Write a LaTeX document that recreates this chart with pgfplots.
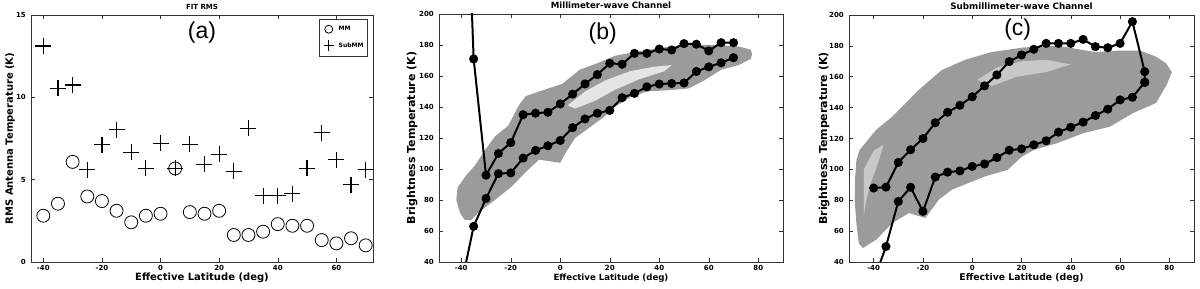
\documentclass[border=0pt]{standalone}
\usepackage{pgfplots}
\pgfplotsset{compat=1.18}
\usepackage{fontspec}
\setmainfont{Liberation Sans}
\newfontfamily\lab{DejaVu Sans}
\definecolor{cloud}{RGB}{155,155,155}
\newcommand\fs[1]{\fontsize{#1}{#1}\selectfont}
\begin{document}
\begin{tikzpicture}
\useasboundingbox (0pt,0pt) rectangle (1200pt,289pt);
\pgfplotsset{
  every axis/.append style={
    scale only axis,
    axis line style={line width=0.6pt, black!80},
    tick align=inside,
    major tick length=4pt,
    tick style={black!80, line width=0.5pt},
    /pgf/number format/assume math mode=true,
    ticklabel style={font=\lab\bfseries\fs{7}},
    xticklabel style={anchor=base, inner sep=0pt, yshift=-9pt},
    yticklabel style={anchor=east, inner sep=0pt, xshift=-5pt},
    xlabel style={at={(axis description cs:0.5,0)}, anchor=base, yshift=-18.5pt, inner sep=0pt},
    ylabel style={at={(axis description cs:0,0.5)}, anchor=base, inner sep=0pt},
    title style={at={(axis description cs:0.5,1)}, anchor=base, yshift=-0.3pt, inner sep=0pt},
  }
}
% ---------------- (a) ----------------
\begin{axis}[
  at={(31pt,27pt)}, anchor=south west,
  width=342pt, height=247pt,
  xmin=-44.2, xmax=72.5, ymin=0, ymax=15,
  xtick={-40,-20,0,20,40,60}, ytick={0,5,10,15},
  title={FIT RMS},
  title style={font=\lab\bfseries\fs{7}},
  xlabel={Effective Latitude (deg)},
  xlabel style={font=\lab\bfseries\fs{10}},
  ylabel={RMS Antenna Temperature (K)},
  ylabel style={font=\lab\bfseries\fs{10}, yshift=18pt},
  legend style={at={(axis description cs:0.985,0.984)}, anchor=north east, draw=black!80, line width=0.6pt,
    font=\lab\bfseries\fs{6}, inner xsep=2pt, inner ysep=4.5pt, row sep=5pt, cells={anchor=west}},
  legend cell align=left,
]
\addplot[only marks, mark=o, mark size=6.5pt, black, line width=0.8pt,
  legend image code/.code={\path[draw=none,fill=none] (0pt,-5.5pt) rectangle (15pt,5.5pt);
    \draw[black,line width=0.8pt,fill=none] (7pt,0) circle (4pt);}]
coordinates {
(-40,2.81) (-35,3.54) (-30,6.08) (-25,3.98) (-20,3.70) (-15,3.11) (-10,2.41) (-5,2.81)
(0,2.93) (5,5.68) (10,3.03) (15,2.93) (20,3.11) (25,1.64) (30,1.64) (35,1.84) (40,2.30)
(45,2.20) (50,2.20) (55,1.33) (60,1.13) (65,1.44) (70,1.01)};
\addlegendentry{MM}
\addplot[only marks, mark=+, mark size=8pt, black, line width=1.2pt,
  legend image code/.code={\path[draw=none,fill=none] (0pt,-5.5pt) rectangle (15pt,5.5pt);
    \draw[black,line width=1.2pt] (2pt,0)--(12pt,0) (7pt,-5.5pt)--(7pt,5.5pt);}]
coordinates {
(-40,13.12) (-35,10.55) (-30,10.75) (-25,5.60) (-20,7.12) (-15,8.03) (-10,6.65) (-5,5.70)
(0,7.22) (5,5.68) (10,7.14) (15,5.94) (20,6.55) (25,5.52) (30,8.13) (35,4.02) (40,4.02)
(45,4.14) (50,5.70) (55,7.86) (60,6.21) (65,4.69) (70,5.60)};
\addlegendentry{SubMM}
\node[font=\fs{23}] at (axis description cs:0.5,0.927) {(a)};
\end{axis}
% ---------------- (b) ----------------
\begin{axis}[
  at={(439pt,27pt)}, anchor=south west,
  width=344pt, height=248pt,
  xmin=-49, xmax=90, ymin=40, ymax=200,
  xtick={-40,-20,0,20,40,60,80}, ytick={40,60,...,200},
  title={Millimeter-wave Channel},
  title style={font=\lab\bfseries\fs{8.6}},
  xlabel={Effective Latitude (deg)},
  xlabel style={font=\lab\bfseries\fs{8.6}},
  ylabel={Brightness Temperature (K)},
  ylabel style={font=\lab\bfseries\fs{11}, yshift=24pt},
]
\addplot[fill=cloud, draw=none] coordinates {
(-41.5,88) (-38,96) (-34.6,102) (-30.5,112) (-26.4,121) (-21,128) (-16.8,141) (-14,147)
(-8.6,150) (0.9,155) (7.8,164) (14.6,168) (22,173) (32,176) (42,178.5) (53,180) (64,180)
(72,179) (77,177) (77.5,174) (77,171) (72,167) (65,164) (58,157) (52,152) (45,151) (35,150)
(28,146) (22,140) (18,134) (12,127) (6,120) (2,110) (0,104) (-8.6,106) (-14,98) (-19.6,88.7)
(-26.4,80) (-33.2,71.7) (-36,67) (-38.7,67.3) (-40.6,72) (-42,80)} -- cycle;
\addplot[fill=white, draw=none, opacity=0.75] coordinates {
(3,141) (10,150) (18,157) (28,163) (38,166) (45,167) (42,163) (32,158) (22,151) (14,144) (6,139)} -- cycle;
\addplot[black, line width=2pt, mark=*, mark size=3.5pt] coordinates {
(-40,385) (-35,171) (-30,96) (-25,110) (-20,117) (-15,135) (-10,136) (-5,136.6) (0,142)
(5,148.3) (10,154.9) (15,160.9) (20,168.2) (25,167.6) (30,174.6) (35,174.6) (40,177.4)
(45,176.8) (50,180.9) (55,180.5) (60,176.2) (65,181.5) (70,181.5)};
\addplot[black, line width=2pt, mark=*, mark size=3.5pt] coordinates {
(-40,25) (-35,63) (-30,81) (-25,97) (-20,97.5) (-15,107) (-10,112) (-5,115) (0,118.4)
(5,126.7) (10,132.3) (15,136) (20,137.8) (25,146) (30,148.8) (35,153) (40,154.8)
(45,155.2) (50,155.5) (55,162.9) (60,165.9) (65,168.5) (70,171.8)};
\node[font=\fs{23}] at (axis description cs:0.476,0.923) {(b)};
\end{axis}
% ---------------- (c) ----------------
\begin{axis}[
  at={(849pt,27pt)}, anchor=south west,
  width=345pt, height=247pt,
  xmin=-50, xmax=90, ymin=40, ymax=200,
  xtick={-40,-20,0,20,40,60,80}, ytick={40,60,...,200},
  title={Submillimeter-wave Channel},
  title style={font=\lab\bfseries\fs{8.8}},
  xlabel={Effective Latitude (deg)},
  xlabel style={font=\lab\bfseries\fs{9.3}},
  ylabel={Brightness Temperature (K)},
  ylabel style={font=\lab\bfseries\fs{11}, yshift=22pt},
]
\addplot[fill=cloud, draw=none] coordinates {
(-47.7,80) (-47.5,95) (-47,106) (-45.7,112.6) (-39,125.6) (-32.4,134.2) (-25.7,145)
(-21.7,151.5) (-12.3,164.4) (-2.9,171) (7.8,176) (21,179) (35,180) (50,176) (60,177)
(68,177) (74.6,173) (78.6,168.8) (81,163) (79,155) (74.6,143) (65.2,136.4) (55.9,127.7)
(45.2,123.5) (34.5,117) (25.1,112.7) (20,108) (14.4,99.7) (5.1,95.4) (-1.6,91.1)
(-8.3,86.8) (-13.6,80.3) (-19,68.5) (-25.7,71.7) (-32.4,65.2) (-39,54.4) (-44.4,49)
(-46,52) (-47,65)} -- cycle;
\addplot[fill=white, draw=none, opacity=0.45] coordinates {
(-44,100) (-40,112) (-36,116) (-38,105) (-41,92) (-43,80) (-44,70)} -- cycle;
\addplot[fill=white, draw=none, opacity=0.45] coordinates {
(2,158) (10,166) (20,170) (30,171) (40,168) (30,163) (18,160) (8,154)} -- cycle;
\addplot[black, line width=2pt, mark=*, mark size=3.5pt] coordinates {
(-40,87.9) (-35,88.5) (-30,104.5) (-25,112.7) (-20,120) (-15,130.2) (-10,137) (-5,141.5)
(0,147) (5,154.1) (10,161.2) (15,169.8) (20,174.1) (25,177.8) (30,181.6) (35,181.6)
(40,181.6) (45,184.2) (50,179.5) (55,178.8) (60,181.6) (65,195.7) (70,163.3) (70,156.4)};
\addplot[black, line width=2pt, mark=*, mark size=3.5pt] coordinates {
(-40,28) (-35,50) (-30,79.2) (-25,88.4) (-20,72.8) (-15,95) (-10,98.2) (-5,99) (0,101.9)
(5,103.5) (10,107.6) (15,112.4) (20,113.3) (25,115.9) (30,118.5) (35,124.1) (40,127.3)
(45,130.6) (50,134.9) (55,139) (60,145) (65,146.7) (70,156.4)};
\node[font=\fs{23}] at (axis description cs:0.489,0.94) {(c)};
\end{axis}
\end{tikzpicture}
\end{document}
